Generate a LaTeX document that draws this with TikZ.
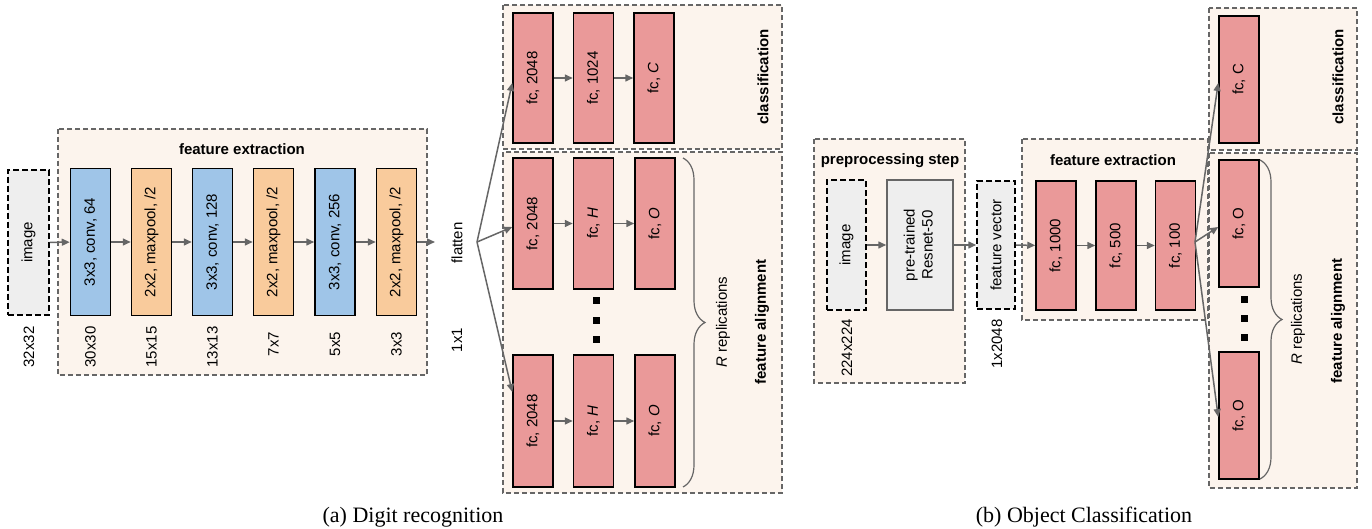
\documentclass[tikz,border=0pt]{standalone}
\usepackage{fontspec}
\setmainfont{Liberation Serif}
\newfontfamily\arialf{Liberation Sans}
\usetikzlibrary{arrows.meta,calc,decorations.pathreplacing}
\definecolor{cblue}{HTML}{9FC5E8}
\definecolor{corange}{HTML}{F9CB9C}
\definecolor{cred}{HTML}{EA9999}
\definecolor{cgray}{HTML}{EEEEEE}
\definecolor{cpanel}{HTML}{FCF4ED}
\definecolor{cline}{HTML}{666666}
\newcommand{\lblfont}{\arialf\fontsize{7.5}{9}\selectfont}
\newcommand{\rot}[1]{\rotatebox{90}{#1}}
\tikzset{
  panel/.style={draw=cline, fill=cpanel, line width=0.75pt, dash pattern=on 2.5pt off 1.5pt},
  layer/.style={draw=black, line width=0.75pt, inner sep=0pt, minimum width=20pt, minimum height=73.5pt, font=\lblfont},
  convbox/.style={layer, fill=cblue},
  poolbox/.style={layer, fill=corange},
  fcbox/.style={layer, fill=cred},
  inbox/.style={layer, fill=cgray, dash pattern=on 3pt off 1.5pt},
  grbox/.style={layer, fill=cgray, draw=cline},
  lbl/.style={font=\lblfont, inner sep=0pt},
  ttl/.style={font=\lblfont\bfseries, inner sep=0pt},
  arr/.style={draw=cline, line width=0.75pt, -{Triangle[length=4pt,width=3.5pt]}},
  sq/.style={fill=black, inner sep=0pt, minimum size=3.5pt},
  brc/.style={draw=cline, line width=0.6pt, decorate, decoration={brace, amplitude=11pt}},
  captxt/.style={font=\fontsize{11}{13}\selectfont, inner sep=0pt}
}
\begin{document}
\begin{tikzpicture}[x=0.5pt, y=-0.5pt]
\useasboundingbox (0,0) rectangle (1372,529);
% ================= (a) =================
\draw[panel] (58,129) rectangle (427,375);
\node[ttl] (fta) at (242,149) {feature extraction};
\node[inbox, minimum width=20.5pt, minimum height=72.5pt] (imga) at (28.5,242.5) {\rot{image}};
\node[convbox] (c1) at (90.5,242) {\rot{3x3, conv, 64}};
\node[poolbox] (p1) at (151.5,242) {\rot{2x2, maxpool, /2}};
\node[convbox] (c2) at (212.5,242) {\rot{3x3, conv, 128}};
\node[poolbox] (p2) at (273.5,242) {\rot{2x2, maxpool, /2}};
\node[convbox] (c3) at (335,242) {\rot{3x3, conv, 256}};
\node[poolbox] (p3) at (396.5,242) {\rot{2x2, maxpool, /2}};
\node[lbl] (s0) at (29,347) {\rot{32x32}};
\node[lbl] (s1) at (90.5,347) {\rot{30x30}};
\node[lbl] (s2) at (151.5,347) {\rot{15x15}};
\node[lbl] (s3) at (212.5,347) {\rot{13x13}};
\node[lbl] (s4) at (273.5,344) {\rot{7x7}};
\node[lbl] (s5) at (335,344) {\rot{5x5}};
\node[lbl] (s6) at (396.5,344) {\rot{3x3}};
\node[lbl] (fl) at (457,243) {\rot{flatten}};
\node[lbl] (s7) at (457,340) {\rot{1x1}};
\draw[arr] (imga) -- (c1);
\draw[arr] (c1) -- (p1);
\draw[arr] (p1) -- (c2);
\draw[arr] (c2) -- (p2);
\draw[arr] (p2) -- (c3);
\draw[arr] (c3) -- (p3);
\coordinate (outa) at (435,242);
\draw[arr] (p3) -- (outa);
\coordinate (fana) at (477,242);
% classification (a)
\draw[panel] (503,5) rectangle (782,149);
\node[fcbox, minimum height=65pt] (ca1) at (533,78) {\rot{fc, 2048}};
\node[fcbox, minimum height=65pt] (ca2) at (593.5,78) {\rot{fc, 1024}};
\node[fcbox, minimum height=65pt] (ca3) at (654,78) {\rot{fc, \textit{C}}};
\node[ttl] (clsa) at (763,77) {\rot{classification}};
\draw[arr] (ca1) -- (ca2);
\draw[arr] (ca2) -- (ca3);
% feature alignment (a)
\draw[panel] (503,152) rectangle (782,493);
\node[fcbox, minimum height=65.5pt] (ra1) at (533,223.5) {\rot{fc, 2048}};
\node[fcbox, minimum height=65.5pt] (ra2) at (593.5,223.5) {\rot{fc, \textit{H}}};
\node[fcbox, minimum height=65.5pt] (ra3) at (655,223.5) {\rot{fc, \textit{O}}};
\node[fcbox, minimum height=66pt] (rb1) at (533,421) {\rot{fc, 2048}};
\node[fcbox, minimum height=66pt] (rb2) at (593.5,421) {\rot{fc, \textit{H}}};
\node[fcbox, minimum height=66pt] (rb3) at (655,421) {\rot{fc, \textit{O}}};
\draw[arr] (ra1) -- (ra2);
\draw[arr] (ra2) -- (ra3);
\draw[arr] (rb1) -- (rb2);
\draw[arr] (rb2) -- (rb3);
\node[sq] (da1) at (596,301) {};
\node[sq] (da2) at (596,321) {};
\node[sq] (da3) at (596,340) {};
\coordinate (bra1) at (683,158);
\coordinate (bra2) at (683,487);
\draw[brc] (bra1) -- (bra2);
\node[lbl] (repa) at (723,322) {\rot{\textit{R} replications}};
\node[ttl] (faa) at (762,322) {\rot{feature alignment}};
% fan (a)
\draw[arr] (fana) -- ($(ca1.west)+(0,5)$);
\draw[arr] (fana) -- ($(ra1.west)+(0,3.5)$);
\draw[arr] (fana) -- ($(rb1.west)+(0,-29)$);
\node[captxt] (capa) at (413,517) {(a) Digit recognition};
% ================= (b) =================
\draw[panel] (814,139) rectangle (965,383);
\node[ttl] (pps) at (890,161) {preprocessing step};
\node[inbox, minimum width=19.5pt, minimum height=65pt] (imgb) at (846.5,245) {\rot{image}};
\node[grbox, minimum width=33pt, minimum height=65pt] (res) at (920,245) {\rot{\begin{tabular}{@{}c@{}}pre-trained\\Resnet-50\end{tabular}}};
\node[lbl] (s8) at (847,348) {\rot{224x224}};
\draw[arr] (imgb) -- (res);
\draw[panel] (1022,139) rectangle (1208,320);
\node[ttl] (ftb) at (1113,160) {feature extraction};
\node[inbox, minimum width=19pt, minimum height=64pt] (fv) at (996,245) {\rot{feature vector}};
\node[lbl] (s9) at (997,344) {\rot{1x2048}};
\draw[arr] (res) -- (fv);
\node[fcbox, minimum height=64.5pt] (f1) at (1056,245.5) {\rot{fc, 1000}};
\node[fcbox, minimum height=64.5pt] (f2) at (1116,245.5) {\rot{fc, 500}};
\node[fcbox, minimum height=64.5pt] (f3) at (1175.5,245.5) {\rot{fc, 100}};
\draw[arr] (fv) -- (f1);
\draw[arr] (f1) -- (f2);
\draw[arr] (f2) -- (f3);
% classification (b)
\draw[panel] (1209,8) rectangle (1357,150);
\node[fcbox, minimum height=63.5pt] (cb1) at (1239,79.5) {\rot{fc, C}};
\node[ttl] (clsb) at (1338,77) {\rot{classification}};
% feature alignment (b)
\draw[panel] (1209,153) rectangle (1357,488);
\node[fcbox, minimum height=63.5pt] (ob1) at (1239,223.5) {\rot{fc, O}};
\node[fcbox, minimum height=63.5pt] (ob2) at (1239,415.5) {\rot{fc, O}};
\node[sq] (db1) at (1244,300) {};
\node[sq] (db2) at (1244,319) {};
\node[sq] (db3) at (1244,338) {};
\coordinate (brb1) at (1260,160);
\coordinate (brb2) at (1260,479);
\draw[brc] (brb1) -- (brb2);
\node[lbl] (repb) at (1298,319) {\rot{\textit{R} replications}};
\node[ttl] (fab) at (1338,321) {\rot{feature alignment}};
\coordinate (fanb) at (1195,242);
\draw[arr] (fanb) -- ($(cb1.west)+(0,3.5)$);
\draw[arr] (fanb) -- ($(ob1.west)+(0,3.5)$);
\draw[arr] (fanb) -- ($(ob2.west)+(0,1.5)$);
\node[captxt] (capb) at (1084,517) {(b) Object Classification};
\end{tikzpicture}
\end{document}
